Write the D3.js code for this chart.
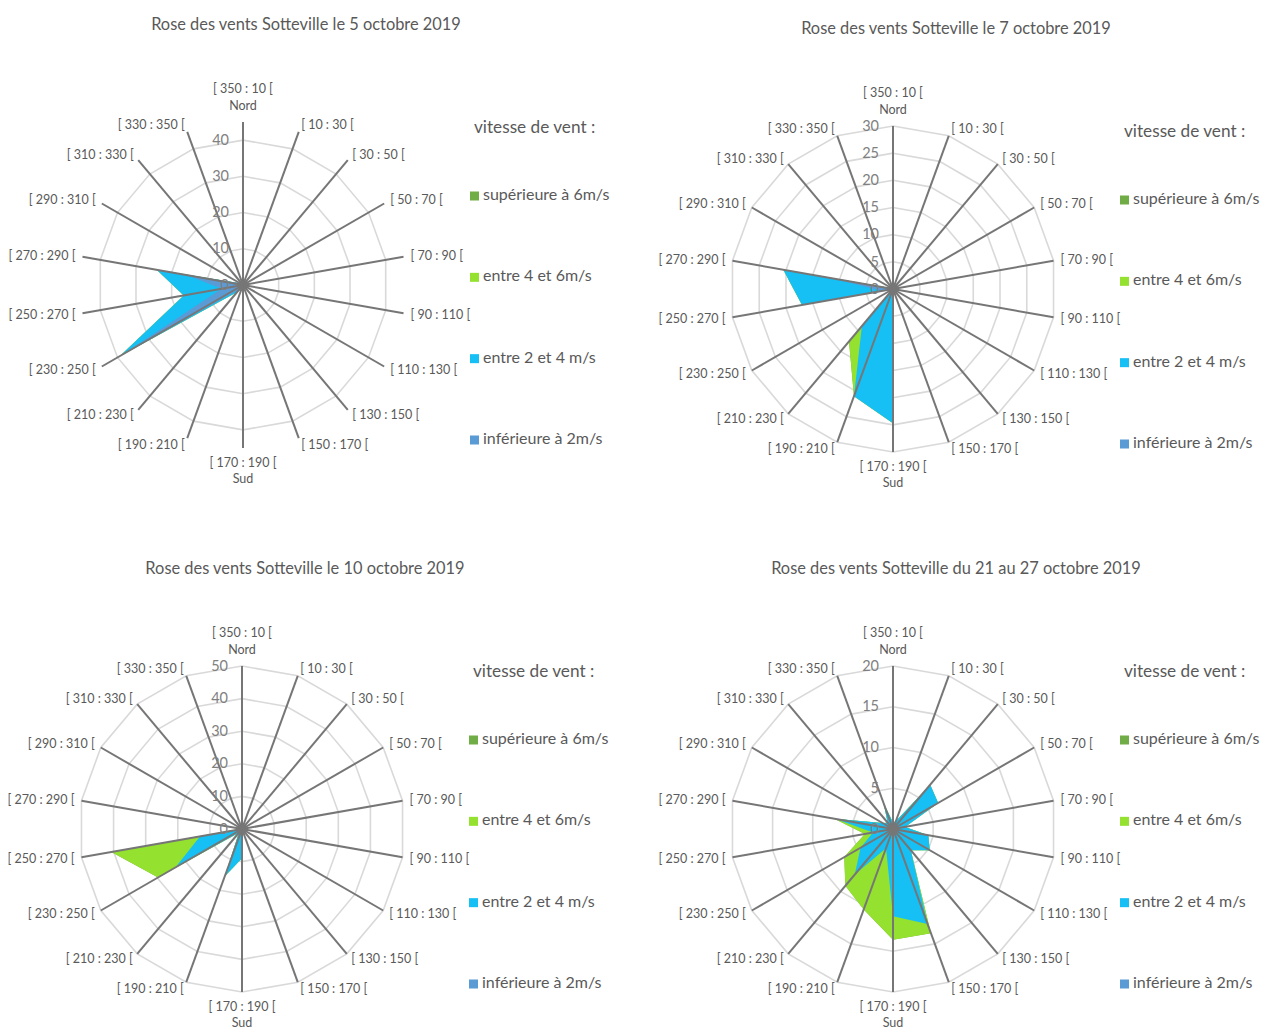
<!DOCTYPE html>
<html><head><meta charset="utf-8">
<script src="https://cdn.jsdelivr.net/npm/d3@7"></script>
<style>
body{margin:0;background:#fff}
svg{display:block}
text{font-family:Lato,"Open Sans",sans-serif}
</style>
</head><body>
<svg id="chart" width="1262" height="1027"></svg>
<script>
// ---------- data ----------
const categories = ["[ 350 : 10 [", "[ 10 : 30 [", "[ 30 : 50 [", "[ 50 : 70 [", "[ 70 : 90 [", "[ 90 : 110 [",
  "[ 110 : 130 [", "[ 130 : 150 [", "[ 150 : 170 [", "[ 170 : 190 [", "[ 190 : 210 [", "[ 210 : 230 [",
  "[ 230 : 250 [", "[ 250 : 270 [", "[ 270 : 290 [", "[ 290 : 310 [", "[ 310 : 330 [", "[ 330 : 350 ["];
const categorySubLabels = ["Nord", "", "", "", "", "", "", "", "", "Sud", "", "", "", "", "", "", "", ""];
const seriesNames = ["supérieure à 6m/s", "entre 4 et 6m/s", "entre 2 et 4 m/s", "inférieure à 2m/s"];
const legendTitle = "vitesse de vent :";
const titles = [
  "Rose des vents Sotteville le 5 octobre 2019",
  "Rose des vents Sotteville le 7 octobre 2019",
  "Rose des vents Sotteville le 10 octobre 2019",
  "Rose des vents Sotteville du 21 au 27 octobre 2019"
];
const axisMax = [45, 30, 50, 20];
const ticks1 = [0, 10, 20, 30, 40];
const ticks2 = [0, 5, 10, 15, 20, 25, 30];
const ticks3 = [0, 10, 20, 30, 40, 50];
const ticks4 = [0, 5, 10, 15, 20];

// plotted (cumulative) values, one per direction class
const chart1_sup6 = [0,0,0,0,0,0,0,0,0,4,1,2.5,39.3,16.6,24.2,1,0,0];
const chart1_e46  = [0,0,0,0,0,0,0,0,0,4,1,2.5,39.3,16.6,24.2,1,0,0];
const chart1_e24  = [0,0,0,0,0,0,0,0,0,4,1,2.5,39.3,16.6,24.2,1,0,0];
const chart1_inf2 = [0,0,0,0,0,0,0,0,0,4,0,1.5,38.5,6,15.8,1,0,0];

const chart2_sup6 = [0,0,0,0,0,0,0,0,0,24.7,21,12.6,0,17,20.5,0.3,0,0];
const chart2_e46  = [0,0,0,0,0,0,0,0,0,24.7,21,12.6,0,17,20.5,0.3,0,0];
const chart2_e24  = [0,0,0,0,0,0,0,0,0,24.7,21,8.9,0,17,20.5,0.3,0,0];
const chart2_inf2 = [0,0,0,0,0,0,0,0,0,0,0,0,0,2,11.8,0.3,0,0];

const chart3_sup6 = [0,0,0,0,0,0,0,0,0,9,15.4,1.5,29.7,40.7,0.5,0,0,0];
const chart3_e46  = [0,0,0,0,0,0,0,0,0,9,15.4,1.5,29.7,40.7,0.5,0,0,0];
const chart3_e24  = [0,0,0,0,0,0,0,0,0,9,15.4,1.5,23.6,13.1,0.5,0,0,0];
const chart3_inf2 = [0,0,0,0,0,0,0,0,0,1,1,0.5,1,1,0.3,0,0,0];

const chart4_sup6 = [0.8,1,7.1,6.4,1.5,4.4,5.2,3.4,13.6,13.6,10.5,9.1,6.9,3.5,7.3,1.5,1,3.4];
const chart4_e46  = [0.8,1,7.1,6.4,1.5,4.4,5.2,3.4,13.6,13.6,10.5,9.1,6.9,3.5,7.3,1.5,1,3.4];
const chart4_e24  = [0.8,1,7.1,6.4,1.5,4.4,5.2,3.4,12.4,10.7,2.5,7.3,4.6,2.5,7.2,1.5,1,3.4];
const chart4_inf2 = [0.3,0.3,0.5,0.5,0.3,0.5,0.5,0.5,0.6,0.6,0.5,0.5,0.5,0.5,0.5,0.3,0.3,0.5];

// ---------- styles / layout ----------
const seriesColors = ["#70ad47", "#95e12f", "#16bff4", "#5b9bd5"];
const charts = [
  {cx: 243, cy: 285, title: titles[0], max: axisMax[0], ticks: ticks1, series: [chart1_sup6, chart1_e46, chart1_e24, chart1_inf2]},
  {cx: 893, cy: 289, title: titles[1], max: axisMax[1], ticks: ticks2, series: [chart2_sup6, chart2_e46, chart2_e24, chart2_inf2]},
  {cx: 242, cy: 829, title: titles[2], max: axisMax[2], ticks: ticks3, series: [chart3_sup6, chart3_e46, chart3_e24, chart3_inf2]},
  {cx: 893, cy: 829, title: titles[3], max: axisMax[3], ticks: ticks4, series: [chart4_sup6, chart4_e46, chart4_e24, chart4_inf2]}
];
const R = 163;
const svg = d3.select("#chart");
svg.append("rect").attr("width", 1262).attr("height", 1027).attr("fill", "#fff");

const n = categories.length;
const angle = d3.scaleLinear().domain([0, n]).range([0, 2 * Math.PI]);

charts.forEach(c => {
  const g = svg.append("g").attr("transform", `translate(${c.cx},${c.cy})`);
  const r = d3.scaleLinear().domain([0, c.max]).range([0, R]);

  // title
  svg.append("text").attr("x", c.cx + 63).attr("y", c.cy - 259)
    .attr("text-anchor", "middle").attr("dominant-baseline", "middle")
    .attr("font-size", 16.4).attr("fill", "#595959").text(c.title);

  // grid rings
  const ring = d3.lineRadial().angle((d, i) => angle(i)).radius(d => r(d)).curve(d3.curveLinearClosed);
  c.ticks.filter(t => t > 0).forEach(t => {
    g.append("path").attr("d", ring(categories.map(() => t)))
      .attr("fill", "none").attr("stroke", "#d9d9d9").attr("stroke-width", 1.6);
  });

  // filled series
  const area = d3.lineRadial().angle((d, i) => angle(i)).radius(d => r(d)).curve(d3.curveLinearClosed);
  c.series.forEach((s, k) => {
    g.append("path").attr("d", area(s)).attr("fill", seriesColors[k]).attr("stroke", "none");
  });

  // spokes
  categories.forEach((cat, i) => {
    const a = angle(i);
    g.append("line").attr("x1", 0).attr("y1", 0)
      .attr("x2", r(c.max) * Math.sin(a)).attr("y2", -r(c.max) * Math.cos(a))
      .attr("stroke", "#767676").attr("stroke-width", 2);
  });
  g.append("circle").attr("r", 5).attr("fill", "#767676");

  // tick labels
  c.ticks.forEach(t => {
    g.append("text").attr("x", -14).attr("y", -r(t) + 1)
      .attr("text-anchor", "end").attr("dominant-baseline", "middle")
      .attr("font-size", 14.5).attr("fill", "#808080").text(t);
  });

  // category labels
  categories.forEach((cat, i) => {
    const a = angle(i);
    const s = Math.sin(a), co = Math.cos(a);
    if (i === 0) {
      g.append("text").attr("x", 0).attr("y", -r(c.max) - 32).attr("text-anchor", "middle")
        .attr("dominant-baseline", "middle").attr("font-size", 12.5).attr("fill", "#595959").text(cat);
      g.append("text").attr("x", 0).attr("y", -r(c.max) - 15).attr("text-anchor", "middle")
        .attr("dominant-baseline", "middle").attr("font-size", 12.5).attr("fill", "#595959").text(categorySubLabels[i]);
    } else if (i === n / 2) {
      g.append("text").attr("x", 0).attr("y", r(c.max) + 16).attr("text-anchor", "middle")
        .attr("dominant-baseline", "middle").attr("font-size", 12.5).attr("fill", "#595959").text(cat);
      g.append("text").attr("x", 0).attr("y", r(c.max) + 32).attr("text-anchor", "middle")
        .attr("dominant-baseline", "middle").attr("font-size", 12.5).attr("fill", "#595959").text(categorySubLabels[i]);
    } else {
      const rr = r(c.max) + 7;
      g.append("text").attr("x", rr * s).attr("y", -rr * co + 1)
        .attr("text-anchor", s > 0 ? "start" : "end").attr("dominant-baseline", "middle")
        .attr("font-size", 12.5).attr("fill", "#595959").text(cat);
    }
  });

  // legend
  const lg = svg.append("g").attr("transform", `translate(${c.cx + 227},${c.cy})`);
  lg.append("text").attr("x", 4).attr("y", -156).attr("dominant-baseline", "middle")
    .attr("font-size", 17.2).attr("fill", "#595959").text(legendTitle);
  const legendY = d3.scalePoint().domain(seriesNames).range([-89, 155]);
  seriesNames.forEach((nm, k) => {
    lg.append("rect").attr("x", 0).attr("y", legendY(nm) - 4.5).attr("width", 9).attr("height", 9)
      .attr("fill", seriesColors[k]);
    lg.append("text").attr("x", 13).attr("y", legendY(nm)).attr("dominant-baseline", "middle")
      .attr("font-size", 16).attr("fill", "#595959").text(nm);
  });
});
</script>
</body></html>
